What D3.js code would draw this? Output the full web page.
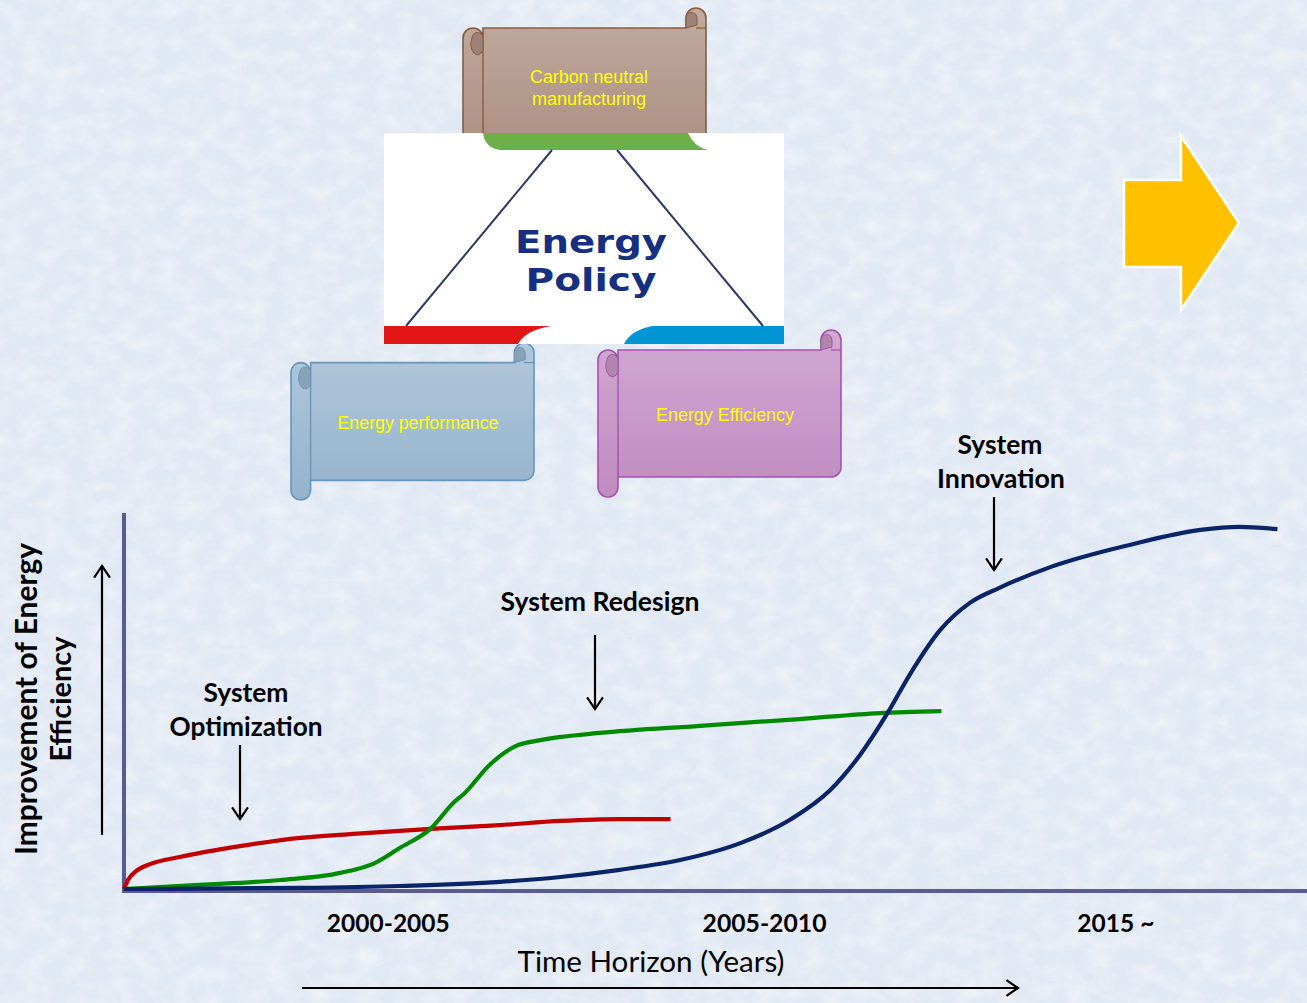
<!DOCTYPE html>
<html>
<head>
<meta charset="utf-8">
<script src="https://cdn.jsdelivr.net/npm/d3@7"></script>
<style>
  html, body { margin: 0; padding: 0; overflow: hidden; background: #e6edf7; }
  svg { display: block; }
</style>
</head>
<body>
<svg id="chart" width="1307" height="1003"></svg>
<script>
// ---- Data: abstract time index (0-100) vs. improvement of energy efficiency (0-100)
const periods   = ["2000-2005", "2005-2010", "2015 ~"];
const periodAt  = [22.3, 54.1, 83.8];

const optimization = [
  [0, 0], [0.34, 2.4], [0.93, 4.5], [2.2, 6.6], [4.7, 8.5], [9.8, 11.4], [14.9, 13.6],
  [19.1, 14.6], [25.9, 16.0], [31.8, 17.0], [36.9, 18.1], [41.9, 18.6], [46.2, 18.6]
];
const redesign = [
  [0, 0], [6.4, 1.1], [13.2, 2.4], [18.3, 4.3], [21.2, 6.9], [23.3, 10.9], [25.9, 16.0],
  [28.0, 23.4], [28.7, 25.2], [30.9, 33.0], [33.1, 38.0], [35.2, 39.6], [40.2, 41.5],
  [48.7, 43.4], [57.1, 45.2], [63.9, 46.8], [69.1, 47.3]
];
const innovation = [
  [0, 0], [14.9, 0.3], [23.3, 0.8], [31.8, 1.9], [36.9, 3.2], [41.9, 5.1], [47.0, 7.7],
  [52.1, 12.2], [56.3, 18.4], [59.7, 26.3], [62.2, 35.6], [64.6, 47.1], [66.4, 56.9],
  [69.0, 68.9], [71.5, 76.1], [74.0, 80.1], [78.3, 85.6], [85.0, 91.5], [91.0, 95.5],
  [94.3, 96.3], [97.5, 95.7]
];

const seriesNames  = ["System Optimization", "System Redesign", "System Innovation"];
const seriesColors = ["#c00000", "#008a00", "#0a2466"];

const svg = d3.select("#chart");
const W = 1307, H = 1003;

// ---- Background with a soft paper-like texture
const defs = svg.append("defs");
const tex = defs.append("filter").attr("id", "paper").attr("x", 0).attr("y", 0).attr("width", 1).attr("height", 1);
tex.append("feTurbulence").attr("type", "fractalNoise").attr("baseFrequency", "0.045 0.06")
   .attr("numOctaves", 4).attr("seed", 7).attr("result", "n");
tex.append("feColorMatrix").attr("in", "n").attr("type", "matrix")
   .attr("values", "0 0 0 0 1  0 0 0 0 1  0 0 0 0 1  0 0 0 -2.0 1.25");
svg.append("rect").attr("width", W).attr("height", H).attr("fill", "#e0e8f3");
svg.append("rect").attr("width", W).attr("height", H).attr("filter", "url(#paper)").attr("opacity", 0.45);

// ---- Helpers
function gradient(id, c0, c1) {
  const g = defs.append("linearGradient").attr("id", id).attr("x1", 0).attr("y1", 0).attr("x2", 0).attr("y2", 1);
  g.append("stop").attr("offset", "0%").attr("stop-color", c0);
  g.append("stop").attr("offset", "100%").attr("stop-color", c1);
}

function fitText(sel, width) {
  const node = sel.node();
  const fs = parseFloat(sel.attr("font-size"));
  const len = node.getComputedTextLength();
  if (len > 0) sel.attr("font-size", (fs * width / len).toFixed(2));
  return sel;
}

function label(g, txt, x, y, opts) {
  const t = g.append("text").attr("x", x).attr("y", y).attr("text-anchor", "middle")
    .attr("font-family", opts.family).attr("font-weight", opts.weight || "normal")
    .attr("font-size", opts.size).attr("fill", opts.fill || "#000").text(txt);
  if (opts.stretch) t.attr("textLength", opts.stretch).attr("lengthAdjust", "spacingAndGlyphs");
  else if (opts.width) fitText(t, opts.width);
  return t;
}

function scroll(g, box, style) {
  const { l, t, r, b, ch } = box, h = ch / 2, y3 = t + ch, y6 = b - ch;
  const d = `M${l + ch},${y3} L${r - ch},${y3} L${r - ch},${t + h} A${h},${h} 0 0 1 ${r},${t + h}
             L${r},${y6 - h} A${h},${h} 0 0 1 ${r - h},${y6} L${l + ch},${y6} L${l + ch},${b - h}
             A${h},${h} 0 0 1 ${l},${b - h} L${l},${y3 + h} A${h},${h} 0 0 1 ${l + ch},${y3 + h} Z`;
  g.append("path").attr("d", d).attr("fill", `url(#${style.grad})`)
    .attr("stroke", style.stroke).attr("stroke-width", 1.6);
  // rolled edge on the left
  g.append("line").attr("x1", l + ch).attr("y1", y3 + h).attr("x2", l + ch).attr("y2", y6)
    .attr("stroke", style.stroke).attr("stroke-width", 1.4);
  g.append("path")
    .attr("d", `M${l + ch},${y3 + h} A${h * 0.55},${h * 0.55} 0 0 0 ${l + ch - h * 1.1},${y3 + h} A${h * 0.55},${h * 0.9} 0 0 0 ${l + ch},${y3 + ch + 2} Z`)
    .attr("fill", style.curl).attr("stroke", style.stroke).attr("stroke-width", 1);
  // rolled edge at the top right
  g.append("path")
    .attr("d", `M${r - ch},${t + h} A${h * 0.55},${h * 0.55} 0 0 1 ${r - ch + h * 1.1},${t + h} L${r - ch + h * 1.1},${y3 - 3} L${r - ch},${y3} Z`)
    .attr("fill", style.curl).attr("stroke", style.stroke).attr("stroke-width", 1);
  g.append("line").attr("x1", r - h).attr("y1", y3).attr("x2", r).attr("y2", y3)
    .attr("stroke", style.stroke).attr("stroke-width", 1.2);
}

gradient("gBrown", "#c0aa9f", "#a98b7c");
gradient("gBlue", "#b1c7db", "#94b3cb");
gradient("gPurple", "#d0a9d2", "#bf8bc0");

const scrollFont = { family: "'Liberation Sans', Arial, sans-serif", size: 16, fill: "#ffff00" };

// ---- Policy diagram at the top
const diagram = svg.append("g");
scroll(diagram, { l: 463, t: 8, r: 706, b: 175, ch: 20 }, { grad: "gBrown", stroke: "#8c5b3c", curl: "#9c8278" });
label(diagram, "Carbon neutral", 589, 83, { ...scrollFont, width: 118 });
label(diagram, "manufacturing", 589, 105, { ...scrollFont, width: 114 });

scroll(diagram, { l: 291, t: 343, r: 534, b: 500, ch: 19.6 }, { grad: "gBlue", stroke: "#6496c0", curl: "#8aa2b6" });
label(diagram, "Energy performance", 418, 429, { ...scrollFont, width: 161 });

scroll(diagram, { l: 598, t: 330, r: 841, b: 497, ch: 20 }, { grad: "gPurple", stroke: "#a452ad", curl: "#b086ad" });
label(diagram, "Energy Efficiency", 725, 421, { ...scrollFont, width: 138 });

const logo = diagram.append("g");
logo.append("rect").attr("x", 384).attr("y", 133).attr("width", 400).attr("height", 211).attr("fill", "#ffffff");
logo.append("path").attr("d", "M483,133 L688,133 Q694,147 708,150 L500,150 Q485,148 483,133 Z").attr("fill", "#6cb04a");
logo.append("path").attr("d", "M384,326 L551,326 Q526,330 518,344 L384,344 Z").attr("fill", "#e31617");
logo.append("path").attr("d", "M784,326 L652,326 Q631,330 624,344 L784,344 Z").attr("fill", "#0096d6");
logo.append("line").attr("x1", 552).attr("y1", 150).attr("x2", 406).attr("y2", 326).attr("stroke", "#2b3a66").attr("stroke-width", 2);
logo.append("line").attr("x1", 617).attr("y1", 150).attr("x2", 763).attr("y2", 326).attr("stroke", "#2b3a66").attr("stroke-width", 2);
const logoFont = { family: "'DejaVu Sans', sans-serif", weight: "bold", size: 32, fill: "#162f80" };
label(logo, "Energy", 591, 253, { ...logoFont, stretch: 152 });
label(logo, "Policy", 591, 291, { ...logoFont, stretch: 131 });

// ---- Right-pointing block arrow
svg.append("path")
  .attr("d", "M1124,180 L1181,180 L1181,136 L1239,223 L1181,310 L1181,267 L1124,267 Z")
  .attr("fill", "#ffc000").attr("stroke", "#ffffff").attr("stroke-width", 2.5).attr("stroke-linejoin", "miter");

// ---- S-curve chart
const x = d3.scaleLinear().domain([0, 100]).range([124, 1307]);
const y = d3.scaleLinear().domain([0, 100]).range([889, 513]);

const axisColor = "#5b5b93";
const chart = svg.append("g");
chart.append("line").attr("x1", x(0)).attr("y1", y(100)).attr("x2", x(0)).attr("y2", y(0) + 4)
  .attr("stroke", axisColor).attr("stroke-width", 4);
chart.append("line").attr("x1", x(0) - 2).attr("y1", y(0) + 2).attr("x2", x(100)).attr("y2", y(0) + 2)
  .attr("stroke", axisColor).attr("stroke-width", 4);

const line = d3.line().x(d => x(d[0])).y(d => y(d[1])).curve(d3.curveMonotoneX);
[optimization, redesign, innovation].forEach((s, i) => {
  chart.append("path").datum(s).attr("d", line).attr("fill", "none")
    .attr("stroke", seriesColors[i]).attr("stroke-width", 4.2)
    .attr("stroke-linejoin", "round").attr("stroke-linecap", "butt");
});

// period labels along the time axis
const xAxis = d3.axisBottom(x).tickValues(periodAt).tickFormat((d, i) => periods[i]).tickSize(0).tickPadding(0);
const axG = chart.append("g").attr("transform", `translate(0,${y(0) + 43})`).call(xAxis);
axG.select(".domain").remove();
axG.selectAll("text").attr("font-family", "Lato, sans-serif").attr("font-weight", "bold")
  .attr("font-size", 26).attr("fill", "#000").attr("dy", 0);
const tickWidths = [123, 124, 77];
axG.selectAll("text").each(function (d, i) { fitText(d3.select(this), tickWidths[i]); });

// arrows
function arrow(g, x1, y1, x2, y2) {
  const a = Math.atan2(y2 - y1, x2 - x1), L = 14, s = 0.6;
  g.append("line").attr("x1", x1).attr("y1", y1).attr("x2", x2).attr("y2", y2)
    .attr("stroke", "#000").attr("stroke-width", 2.2);
  g.append("path")
    .attr("d", `M${x2 - L * Math.cos(a - s)},${y2 - L * Math.sin(a - s)} L${x2},${y2} L${x2 - L * Math.cos(a + s)},${y2 - L * Math.sin(a + s)}`)
    .attr("fill", "none").attr("stroke", "#000").attr("stroke-width", 2.2);
}
arrow(chart, 240, 745, 240, 819);
arrow(chart, 595, 635, 595, 709);
arrow(chart, 994, 497, 994, 570);
arrow(chart, 102, 835, 102, 566);
arrow(chart, 302, 988, 1018, 988);

// annotations
const boldFont = { family: "Lato, sans-serif", weight: "bold", size: 24 };
label(chart, "System", 246, 702, { ...boldFont, width: 85 });
label(chart, "Optimization", 246, 736, { ...boldFont, width: 153 });
label(chart, "System Redesign", 600, 611, { ...boldFont, width: 199 });
label(chart, "System", 1000, 454, { ...boldFont, width: 85 });
label(chart, "Innovation", 1001, 488, { ...boldFont, width: 128 });

label(chart, "Time Horizon (Years)", 651, 972, { family: "Lato, sans-serif", size: 27, width: 267 });

const yl = chart.append("g").attr("transform", "translate(0,699) rotate(-90)");
label(yl, "Improvement of Energy", 0, 37, { ...boldFont, size: 27, width: 312 });
label(yl, "Efficiency", 0, 71, { ...boldFont, size: 27, width: 125 });
</script>
</body>
</html>
